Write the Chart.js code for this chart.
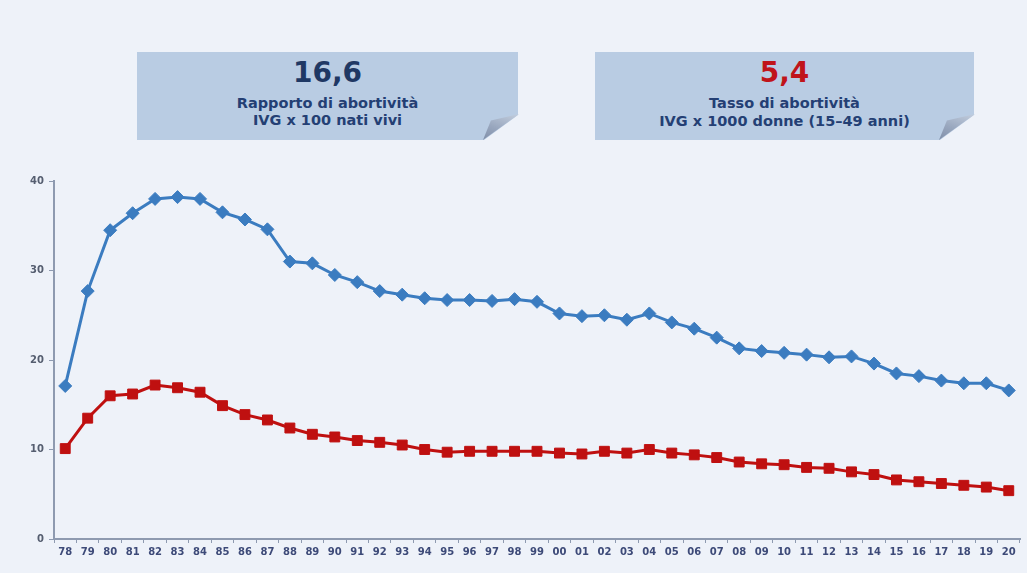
<!DOCTYPE html>
<html lang="it">
<head>
<meta charset="utf-8">
<title>IVG in Italia 1978–2020</title>
<script src="https://cdn.jsdelivr.net/npm/chart.js@4.4.1/dist/chart.umd.min.js"></script>
<style>
  html, body { margin: 0; padding: 0; background: #eef2f9; }
  #wrap { position: relative; width: 1027px; height: 573px; overflow: hidden; background: #eef2f9; }
  #chart { position: absolute; left: 0; top: 0; }
  .box { position: absolute; top: 52px; height: 88px; background: #b9cce3;
         clip-path: polygon(0 0, 100% 0, 100% 63px, calc(100% - 34px) 100%, 0 100%); }
  .fold { position: absolute; width: 36px; height: 26px;
          background: linear-gradient(200deg, #c3cede 0%, #9aa8bf 55%, #7f8ea8 100%);
          clip-path: polygon(100% 0, 22% 25%, 0 100%); }
  .txt { position: absolute; left: 0; width: 100%; text-align: center; white-space: nowrap; }
  .big { font-family: "DejaVu Sans", sans-serif; font-weight: bold; font-size: 28px; line-height: 28px; top: 7px; }
  .lab { font-family: "DejaVu Sans", sans-serif; font-weight: bold; font-size: 14.5px; line-height: 16px; color: #243f74; }
</style>
</head>
<body>
<div id="wrap">
  <canvas id="chart" width="1028" height="573"></canvas>

  <div class="box" style="left:137px; width:381px;">
    <div class="txt big" style="color:#1f3864;">16,6</div>
    <div class="txt lab" style="top:43px;">Rapporto di abortività</div>
    <div class="txt lab" style="top:60px;">IVG x 100 nati vivi</div>
  </div>
  <div class="fold" style="left:483px; top:114px;"></div>

  <div class="box" style="left:595px; width:379px;">
    <div class="txt big" style="color:#c0141a;">5,4</div>
    <div class="txt lab" style="top:43px;">Tasso di abortività</div>
    <div class="txt lab" style="top:61px;">IVG x 1000 donne (15–49 anni)</div>
  </div>
  <div class="fold" style="left:939px; top:114px;"></div>
</div>

<script>
// Years 1978–2020, shown as two-digit labels
const years = ['78','79','80','81','82','83','84','85','86','87','88','89','90','91','92','93','94','95','96','97','98','99',
               '00','01','02','03','04','05','06','07','08','09','10','11','12','13','14','15','16','17','18','19','20'];

// Rapporto di abortività: IVG per 100 nati vivi
const rapporto = [17.1, 27.7, 34.5, 36.4, 38.0, 38.2, 38.0, 36.5, 35.7, 34.6, 31.0, 30.8, 29.5, 28.7, 27.7, 27.3, 26.9, 26.7,
                  26.7, 26.6, 26.8, 26.5, 25.2, 24.9, 25.0, 24.5, 25.2, 24.2, 23.5, 22.5, 21.3, 21.0, 20.8, 20.6, 20.3, 20.4,
                  19.6, 18.5, 18.2, 17.7, 17.4, 17.4, 16.6];

// Tasso di abortività: IVG per 1000 donne 15–49 anni
const tasso = [10.1, 13.5, 16.0, 16.2, 17.2, 16.9, 16.4, 14.9, 13.9, 13.3, 12.4, 11.7, 11.4, 11.0, 10.8, 10.5, 10.0, 9.7,
               9.8, 9.8, 9.8, 9.8, 9.6, 9.5, 9.8, 9.6, 10.0, 9.6, 9.4, 9.1, 8.6, 8.4, 8.3, 8.0, 7.9, 7.5, 7.2, 6.6, 6.4, 6.2,
               6.0, 5.8, 5.4];

const yTicks = [0, 10, 20, 30, 40];

const axisColor = '#8e9ab0';

new Chart(document.getElementById('chart'), {
  type: 'line',
  data: {
    labels: years,
    datasets: [
      {
        label: 'Rapporto di abortività',
        data: rapporto,
        borderColor: '#3b7cc0',
        backgroundColor: '#3b7cc0',
        borderWidth: 3,
        pointStyle: 'rectRot',
        pointRadius: 6.5,
        pointBorderWidth: 1,
        tension: 0
      },
      {
        label: 'Tasso di abortività',
        data: tasso,
        borderColor: '#bf1010',
        backgroundColor: '#bf1010',
        borderWidth: 3,
        pointStyle: 'rect',
        pointRadius: 7,
        pointBorderWidth: 1,
        tension: 0
      }
    ]
  },
  options: {
    responsive: false,
    animation: false,
    layout: { padding: { top: 181, right: 0, left: 0, bottom: 0 } },
    plugins: { legend: { display: false }, tooltip: { enabled: false } },
    scales: {
      x: {
        offset: true,
        grid: { display: true, offset: true, drawOnChartArea: false, drawTicks: true, tickLength: 4, color: axisColor },
        border: { display: true, color: axisColor, width: 2 },
        ticks: {
          autoSkip: false, maxRotation: 0, padding: 3,
          color: '#3d4a78',
          font: { family: 'DejaVu Sans', weight: 'bold', size: 10 }
        },
        afterFit: s => { s.height = 34; }
      },
      y: {
        min: 0, max: 40,
        afterBuildTicks: s => { s.ticks = yTicks.map(v => ({ value: v })); },
        grid: { display: true, drawOnChartArea: false, drawTicks: true, tickLength: 5, color: axisColor },
        border: { display: true, color: axisColor, width: 2 },
        ticks: {
          padding: 5,
          color: '#555e70',
          font: { family: 'DejaVu Sans', weight: 'bold', size: 10 }
        },
        afterFit: s => { s.width = 54; }
      }
    }
  }
});
</script>
</body>
</html>
